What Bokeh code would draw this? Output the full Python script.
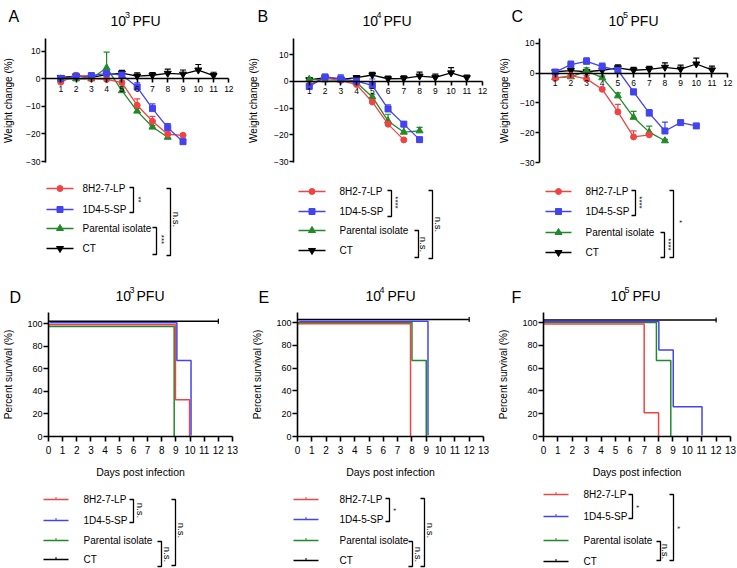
import numpy as np
from bokeh.plotting import figure
from bokeh.models import (Range1d, LinearAxis, FixedTicker, Whisker, TeeHead,
                          ColumnDataSource)
from bokeh.layouts import column, row
from bokeh.core.properties import value
from bokeh.embed import file_html
from bokeh.resources import INLINE

FONT = "Liberation Sans"

# ------------------------------------------------------------------ data
series_names = ["8H2-7-LP", "1D4-5-SP", "Parental isolate", "CT"]
series_keys = ["red", "blue", "green", "ct"]
panel_letters_top = ["A", "B", "C"]
panel_letters_bottom = ["D", "E", "F"]
dose_exponents = ["3", "4", "5"]
title_unit = "PFU"

weight_ticks_x = [1, 2, 3, 4, 5, 6, 7, 8, 9, 10, 11, 12]
weight_ticks_y = [-30, -20, -10, 0, 10]
surv_ticks_x = [0, 1, 2, 3, 4, 5, 6, 7, 8, 9, 10, 11, 12, 13]
surv_ticks_y = [0, 20, 40, 60, 80, 100]

# weight change (%) – mean and upper error, panel A (10^3 PFU)
A_red_days = [1, 2, 3, 4, 5, 6, 7, 8, 9]
A_red = [-1.2, 1.3, 0.1, -0.2, -1.4, -9.6, -15.4, -20.1, -20.5]
A_red_err = [0.5, 0.5, 0.5, 0.5, 0.6, 2.3, 1.8, 0.8, 0.5]
A_blue_days = [1, 2, 3, 4, 5, 6, 7, 8, 9]
A_blue = [0.1, 1.0, 1.2, 2.0, 1.4, -3.0, -10.8, -17.7, -22.8]
A_blue_err = [0.5, 0.5, 0.5, 0.6, 0.8, 1.5, 1.7, 1.5, 0.5]
A_green_days = [1, 2, 3, 4, 5, 6, 7, 8]
A_green = [0.0, 0.0, 0.0, 4.0, -4.3, -11.7, -17.5, -21.2]
A_green_err = [0.5, 0.5, 0.5, 5.7, 1.0, 1.0, 0.5, 0.8]
A_ct_days = [1, 2, 3, 4, 5, 6, 7, 8, 9, 10, 11]
A_ct = [0.5, 1.0, 0.5, 1.5, 2.1, 1.0, 1.3, 2.0, 1.7, 3.2, 1.2]
A_ct_err = [0.6, 0.5, 0.5, 0.6, 1.0, 1.2, 1.0, 1.5, 1.5, 2.0, 1.2]

# panel B (10^4 PFU)
B_red_days = [1, 2, 3, 4, 5, 6, 7]
B_red = [-1.3, 1.4, 0.4, -1.2, -7.7, -16.0, -21.9]
B_red_err = [0.5, 0.5, 0.5, 0.5, 0.6, 0.6, 0.5]
B_blue_days = [1, 2, 3, 4, 5, 6, 7, 8]
B_blue = [-1.9, 1.7, 1.0, 0.1, -1.5, -10.3, -16.0, -21.8]
B_blue_err = [0.5, 0.5, 1.5, 1.0, 2.4, 1.5, 1.0, 0.5]
B_green_days = [1, 2, 3, 4, 5, 6, 7, 8]
B_green = [0.8, 0.6, 0.5, -0.4, -5.8, -14.8, -19.0, -18.5]
B_green_err = [0.5, 0.5, 0.5, 0.5, 1.0, 2.5, 2.4, 1.3]
B_ct_days = [1, 2, 3, 4, 5, 6, 7, 8, 9, 10, 11]
B_ct = [0.6, 1.4, 0.8, 1.4, 2.4, 1.0, 1.1, 2.0, 1.5, 3.2, 1.4]
B_ct_err = [0.5, 0.5, 0.6, 0.8, 1.0, 1.0, 1.0, 1.5, 1.2, 2.0, 1.0]

# panel C (10^5 PFU)
C_red_days = [1, 2, 3, 4, 5, 6, 7]
C_red = [-1.7, -0.8, -1.9, -5.4, -13.0, -21.4, -20.7]
C_red_err = [0.6, 0.6, 1.2, 0.6, 2.5, 2.0, 0.8]
C_blue_days = [1, 2, 3, 4, 5, 6, 7, 8, 9, 10]
C_blue = [0.4, 2.9, 4.0, 2.2, 1.0, -6.3, -13.4, -19.4, -16.6, -17.7]
C_blue_err = [0.5, 1.2, 1.2, 1.2, 0.8, 1.0, 1.2, 3.0, 0.5, 0.5]
C_green_days = [1, 2, 3, 4, 5, 6, 7, 8]
C_green = [-1.5, -1.2, 0.8, -1.5, -7.6, -14.8, -19.8, -22.7]
C_green_err = [0.5, 0.5, 1.0, 0.5, 1.0, 2.0, 2.0, 0.5]
C_ct_days = [1, 2, 3, 4, 5, 6, 7, 8, 9, 10, 11]
C_ct = [0.5, 0.9, 0.5, 1.0, 1.8, 1.0, 1.3, 2.0, 1.4, 3.1, 1.1]
C_ct_err = [0.5, 1.2, 0.5, 0.6, 1.0, 1.0, 1.0, 1.5, 1.3, 2.0, 1.3]

# survival (%) – Kaplan-Meier step points (day, percent)
D_red_t, D_red_s = [0, 9, 10], [100, 33.3, 0]
D_blue_t, D_blue_s = [0, 9, 10], [100, 66.7, 0]
D_green_t, D_green_s = [0, 9], [100, 0]
D_ct_t, D_ct_s = [0, 12], [100, 100]

E_red_t, E_red_s = [0, 8], [100, 0]
E_blue_t, E_blue_s = [0, 9], [100, 0]
E_green_t, E_green_s = [0, 8, 9], [100, 66.7, 0]
E_ct_t, E_ct_s = [0, 12], [100, 100]

F_red_t, F_red_s = [0, 7, 8], [100, 22.2, 0]
F_blue_t, F_blue_s = [0, 8, 9, 11], [100, 75, 25, 0]
F_green_t, F_green_s = [0, 8, 9], [100, 66.7, 0]
F_ct_t, F_ct_s = [0, 12], [100, 100]

# significance labels (top bracket, lower bracket, outer bracket)
sig_A = ["**", "***", "n.s."]
sig_B = ["****", "n.s.", "n.s."]
sig_C = ["****", "****", "*"]
sig_D = ["n.s.", "n.s.", "n.s."]
sig_E = ["*", "n.s.", "n.s."]
sig_F = ["*", "n.s.", "*"]

# ------------------------------------------------------------------ styles
COL = {"red": "#f04444", "blue": "#4343f0", "green": "#21892a", "ct": "#000000"}
MARK = {"red": "circle", "blue": "square", "green": "triangle", "ct": "inverted_triangle"}
MSIZE = {"red": 6, "blue": 6, "green": 7, "ct": 7}


def style_axis(ax, label_size, tick_out):
    ax.axis_line_width = 1.6
    ax.axis_line_color = "black"
    ax.major_tick_line_width = 1.6
    ax.major_tick_line_color = "black"
    ax.major_tick_out = tick_out
    ax.major_tick_in = 0
    ax.minor_tick_line_color = None
    ax.major_label_text_font = FONT
    ax.major_label_text_font_size = label_size
    ax.major_label_text_color = "black"
    ax.axis_label_text_font = FONT
    ax.axis_label_text_font_size = "10px"
    ax.axis_label_text_font_style = "normal"
    ax.axis_label_text_color = "black"


def blank(w, h, y0, y1):
    p = figure(width=w, height=h, x_range=Range1d(0, w), y_range=Range1d(y1, y0),
               x_axis_type=None, y_axis_type=None, toolbar_location=None,
               output_backend="svg", min_border=0, outline_line_color=None)
    p.background_fill_color = "white"
    p.border_fill_color = "white"
    return p


def weight_panel(width, left, right, top, bottom, xmax, yr, ylab_standoff, data):
    p = figure(width=width, height=152, x_range=Range1d(0, xmax), y_range=Range1d(*yr),
               x_axis_type=None, toolbar_location=None, output_backend="svg",
               min_border_left=left, min_border_right=right,
               min_border_top=top, min_border_bottom=bottom,
               outline_line_color=None)
    p.grid.visible = False
    xa = LinearAxis(fixed_location=0, ticker=FixedTicker(ticks=weight_ticks_x),
                    bounds=(0, 12))
    style_axis(xa, "8.5px", 4)
    xa.major_label_standoff = 3
    p.add_layout(xa, "below")
    ya = p.yaxis[0]
    ya.ticker = FixedTicker(ticks=weight_ticks_y)
    style_axis(ya, "8.5px", 4)
    ya.major_label_standoff = 1
    ya.axis_label = "Weight change (%)"
    ya.axis_label_standoff = ylab_standoff
    for key in ["ct", "green", "red", "blue"]:
        d, v, e = data[key]
        c = COL[key]
        src = ColumnDataSource(dict(x=d, y=v, up=[a + b for a, b in zip(v, e)]))
        p.add_layout(Whisker(source=src, base="x", lower="y", upper="up",
                             line_color=c, line_width=1.2,
                             upper_head=TeeHead(size=6, line_color=c, line_width=1.2),
                             lower_head=None))
        p.line("x", "y", source=src, line_color=c, line_width=1.3)
        p.scatter("x", "y", source=src, marker=MARK[key], size=MSIZE[key],
                  fill_color=c, line_color=c)
    return p


def surv_panel(width, left, right, bottom, ymax, data, offs):
    p = figure(width=width, height=178, x_range=Range1d(0, 13), y_range=Range1d(0, ymax),
               toolbar_location=None, output_backend="svg",
               min_border_left=left, min_border_right=right,
               min_border_top=6, min_border_bottom=bottom,
               outline_line_color=None)
    p.grid.visible = False
    xa = p.xaxis[0]
    xa.ticker = FixedTicker(ticks=surv_ticks_x)
    style_axis(xa, "10px", 5)
    xa.major_label_standoff = 4
    xa.axis_label = "Days post infection"
    xa.axis_label_text_font_size = "10.5px"
    xa.axis_label_standoff = 9
    ya = p.yaxis[0]
    ya.ticker = FixedTicker(ticks=surv_ticks_y)
    style_axis(ya, "9px", 5)
    ya.major_label_standoff = 1
    ya.axis_label = "Percent survival (%)"
    ya.axis_label_standoff = 10
    for key in ["ct", "green", "red", "blue"]:
        t, s = data[key]
        dx, dy = offs[key]
        x = np.array(t, dtype=float) + dx
        y = np.array(s, dtype=float) + dy
        p.step(x=x, y=y, mode="after", line_color=COL[key], line_width=1.5)
    tct, sct = data["ct"]
    p.scatter([tct[-1]], [sct[-1] + offs["ct"][1]], marker="dash", angle=np.pi / 2,
              size=5, line_color="black", line_width=1.2)
    return p


def header(p, letters, letter_pos, title_pos):
    for (lx, ly), L in zip(letter_pos, letters):
        p.text(x=[lx], y=[ly], text=[L], text_font=value(FONT), text_font_size="16px",
               text_align="left", text_baseline="alphabetic", text_color="black")
    for (x10, xsup, xunit, yb), ex in zip(title_pos, dose_exponents):
        p.text(x=[x10], y=[yb], text=["10"], text_font=value(FONT), text_font_size="14px",
               text_align="left", text_baseline="alphabetic", text_color="black")
        p.text(x=[xsup], y=[yb - 6], text=[ex], text_font=value(FONT), text_font_size="9px",
               text_align="left", text_baseline="alphabetic", text_color="black")
        p.text(x=[xunit], y=[yb], text=[title_unit], text_font=value(FONT),
               text_font_size="14px", text_align="left", text_baseline="alphabetic",
               text_color="black")


def legend(p, spec, with_markers, sig, brackets):
    ys, x0, x1, tx = spec
    xc = (x0 + x1) / 2
    for key, name, y in zip(series_keys, series_names, ys):
        c = COL[key]
        p.segment(x0=[x0], y0=[y], x1=[x1], y1=[y], line_color=c, line_width=1.5)
        if with_markers:
            p.scatter([xc], [y], marker=MARK[key], size=MSIZE[key], fill_color=c, line_color=c)
        else:
            p.segment(x0=[xc], y0=[y - 2.5], x1=[xc], y1=[y], line_color=c, line_width=1)
        p.text(x=[tx], y=[y], text=[name], text_font=value(FONT), text_font_size="10px",
               text_align="left", text_baseline="middle", text_color="black")
    for (bx, by0, by1, lx, ly), lab in zip(brackets, sig):
        p.multi_line(xs=[[bx - 4, bx, bx, bx - 4]], ys=[[by0, by0, by1, by1]],
                     line_color="black", line_width=1.3)
        size = "8px" if lab.startswith("*") else "9.5px"
        p.text(x=[lx], y=[ly], text=[lab], text_font=value(FONT), text_font_size=size,
               angle=-np.pi / 2, text_align="center", text_baseline="middle",
               text_color="black")


# ------------------------------------------------------------------ top half
h1 = blank(737, 30, 0, 30)
header(h1, panel_letters_top, [(8, 16), (257, 16), (511, 16)],
       [(110, 124.5, 132, 20), (362, 376, 383, 20), (608, 622.5, 630, 20)])

pA = weight_panel(245, 41, 9, 6, 20, 12.5, (-30.36, 14.64), 9,
                  {"red": (A_red_days, A_red, A_red_err), "blue": (A_blue_days, A_blue, A_blue_err),
                   "green": (A_green_days, A_green, A_green_err), "ct": (A_ct_days, A_ct, A_ct_err)})
pB = weight_panel(245, 48, 0, 2, 20, 12.5, (-30.36, 16.07), 12,
                  {"red": (B_red_days, B_red, B_red_err), "blue": (B_blue_days, B_blue, B_blue_err),
                   "green": (B_green_days, B_green, B_green_err), "ct": (B_ct_days, B_ct, B_ct_err)})
pC = weight_panel(247, 49, 2, 8, 19, 12.5, (-30.0, 11.67), 7,
                  {"red": (C_red_days, C_red, C_red_err), "blue": (C_blue_days, C_blue, C_blue_err),
                   "green": (C_green_days, C_green, C_green_err), "ct": (C_ct_days, C_ct, C_ct_err)})

l1 = blank(737, 90, 182, 272)
legend(l1, ([188, 209, 228, 248], 46, 73, 82), True, sig_A,
       [(133, 187, 212, 138, 199), (156, 227, 254, 161, 239), (170, 188, 255, 176, 219)])
legend(l1, ([191, 211, 230, 250], 298, 325, 339), True, sig_B,
       [(391, 190, 216, 395, 202), (418, 230, 257, 423, 244), (432, 190, 258, 438, 224)])
legend(l1, ([191, 211, 232, 252], 545, 571, 585), True, sig_C,
       [(635, 190, 215, 639, 202), (664, 232, 257, 668, 244), (673, 190, 257, 679, 221)])

# ------------------------------------------------------------------ bottom half
h2 = blank(737, 34, 272, 306)
header(h2, panel_letters_bottom, [(9, 297), (258, 297), (511, 297)],
       [(115, 129, 136, 295), (365, 379, 387, 295), (610, 624, 632, 295)])

pD = surv_panel(245, 45, 13, 47, 110,
                {"red": (D_red_t, D_red_s), "blue": (D_blue_t, D_blue_s),
                 "green": (D_green_t, D_green_s), "ct": (D_ct_t, D_ct_s)},
                {"red": (-0.03, -0.8), "blue": (0.07, 0.8), "green": (-0.12, -2.4), "ct": (0, 2.3)})
pE = surv_panel(245, 52, 7, 48, 108.8,
                {"red": (E_red_t, E_red_s), "blue": (E_blue_t, E_blue_s),
                 "green": (E_green_t, E_green_s), "ct": (E_ct_t, E_ct_s)},
                {"red": (-0.1, -1.0), "blue": (0.12, 1.2), "green": (0.0, 0.0), "ct": (0, 2.6)})
pF = surv_panel(247, 53, 7, 48, 108.8,
                {"red": (F_red_t, F_red_s), "blue": (F_blue_t, F_blue_s),
                 "green": (F_green_t, F_green_s), "ct": (F_ct_t, F_ct_s)},
                {"red": (0.0, -1.3), "blue": (0.02, 1.0), "green": (-0.15, 0.0), "ct": (0, 2.2)})

l2 = blank(737, 84, 484, 568)
legend(l2, ([499, 520, 540, 559], 43, 68, 83), False, sig_D,
       [(133, 499, 522, 140, 510), (161, 541, 566, 167, 554), (175, 499, 565, 181, 530)])
legend(l2, ([499, 519, 540, 560], 293, 318, 339), False, sig_E,
       [(389, 498, 521, 393, 509), (412, 541, 566, 418, 554), (424, 498, 566, 430, 530)])
legend(l2, ([494, 516, 540, 561], 543, 568, 583), False, sig_F,
       [(632, 494, 518, 636, 506), (660, 541, 560, 665, 551), (673, 494, 560, 677, 527)])

layout = column(h1, row(pA, pB, pC), l1, h2, row(pD, pE, pF), l2,
                styles={"position": "absolute", "left": "0px", "top": "0px"})

open("out.html", "w").write(file_html(layout, INLINE))
